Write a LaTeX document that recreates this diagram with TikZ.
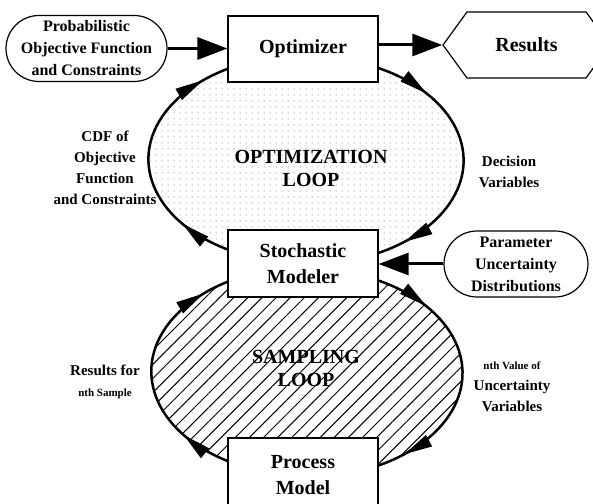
\documentclass[tikz,border=0pt]{standalone}
\usepackage{fontspec}
\setmainfont{Liberation Serif}
\usetikzlibrary{arrows.meta,calc,shapes.misc,shapes.symbols,patterns.meta,decorations.markings}
\tikzstyle{box}=[rectangle,draw=black,fill=white,line width=1.2pt,
  minimum width=150pt,minimum height=66pt,inner sep=0pt,align=center,
  font=\fontsize{20}{26}\selectfont\bfseries]
\tikzstyle{pill}=[rounded rectangle,draw=black,fill=white,line width=1.2pt,
  minimum height=66pt,inner sep=0pt,align=center,
  font=\fontsize{16}{22}\selectfont\bfseries]
\tikzstyle{hexa}=[signal,signal to=west and east,signal pointer angle=108,
  draw=black,fill=white,line width=1.2pt,minimum width=167pt,minimum height=66pt,
  inner sep=0pt,font=\fontsize{20}{24}\selectfont\bfseries]
\tikzstyle{lbl}=[align=center,font=\fontsize{15}{21}\selectfont\bfseries]
\tikzstyle{big}=[align=center,font=\fontsize{20}{23}\selectfont\bfseries]
\tikzstyle{feed}=[line width=3pt,-{Triangle[length=30pt,width=22pt]}]
\newcommand{\loophead}{\fill (1pt,0pt) -- (-27pt,6.5pt) -- (-27pt,-6.5pt) -- cycle;}
\tikzset{
  loopline/.style={line width=2.5pt,postaction={decorate},
    decoration={markings,
      mark=at position 0.2 with {\loophead},
      mark=at position 0.89 with {\loophead}}}
}

\begin{document}
\begin{tikzpicture}[x=1pt,y=1pt]
    \clip (0,0) rectangle (593,503);
    % loop areas
    \fill[pattern={Dots[distance=6pt,radius=0.5pt]},pattern color=black!70]
      (306,343) ellipse [x radius=157,y radius=104];
    \fill[pattern={Lines[angle=45,distance=10pt,line width=1pt]}]
      (307,131) ellipse [x radius=155,y radius=104];

    \node [box] (opt) at (303,454) {Optimizer};
    \node [pill,minimum width=157pt] (prob) at (86.5,454.5) {Probabilistic\\Objective Function\\and Constraints};
    \node [hexa] (res) at (526.5,458) {Results};
    \node [box,minimum height=67pt] (stoch) at (303,239.5) {Stochastic\\Modeler};
    \node [pill,minimum width=144pt] (param) at (516,239) {Parameter\\Uncertainty\\Distributions};
    \node [box,minimum height=75pt] (proc) at (303,27.5) {Process\\Model};

    \node [lbl] (cdf) at (105,335) {CDF of\\Objective\\Function\\and Constraints};
    \node [big] (optloop) at (311,335) {OPTIMIZATION\\LOOP};
    \node [lbl] (dec) at (509,331.5) {Decision\\Variables};
    \node [big] (samploop) at (306,134.5) {SAMPLING\\LOOP};
    \node [lbl] (resn) at (105,121) {Results for\\{\fontsize{11}{14}\selectfont nth Sample}};
    \node [lbl] (valn) at (512,116) {{\fontsize{11}{14}\selectfont nth Value of}\\Uncertainty\\Variables};

    \draw [feed] (prob.east) to (prob.east -| opt.west);
    \draw [feed] (opt.east |- res.west) to (res.west);
    \draw [feed] (param.west) to (param.west -| stoch.east);

    % optimization loop
    \draw [loopline] ($(opt.south east)+(0,14.5)$) arc [start angle=62.7,end angle=-62.7,x radius=157,y radius=104];
    \draw [loopline] ($(stoch.north west)+(0,-20)$) arc [start angle=240.2,end angle=119.8,x radius=157,y radius=104];
    % sampling loop
    \draw [loopline] ($(stoch.south east)+(0,17)$) arc [start angle=62.7,end angle=-62.7,x radius=155,y radius=104];
    \draw [loopline] ($(proc.north west)+(0,-23.5)$) arc [start angle=239.4,end angle=120.6,x radius=155,y radius=104];
\end{tikzpicture}
\end{document}
